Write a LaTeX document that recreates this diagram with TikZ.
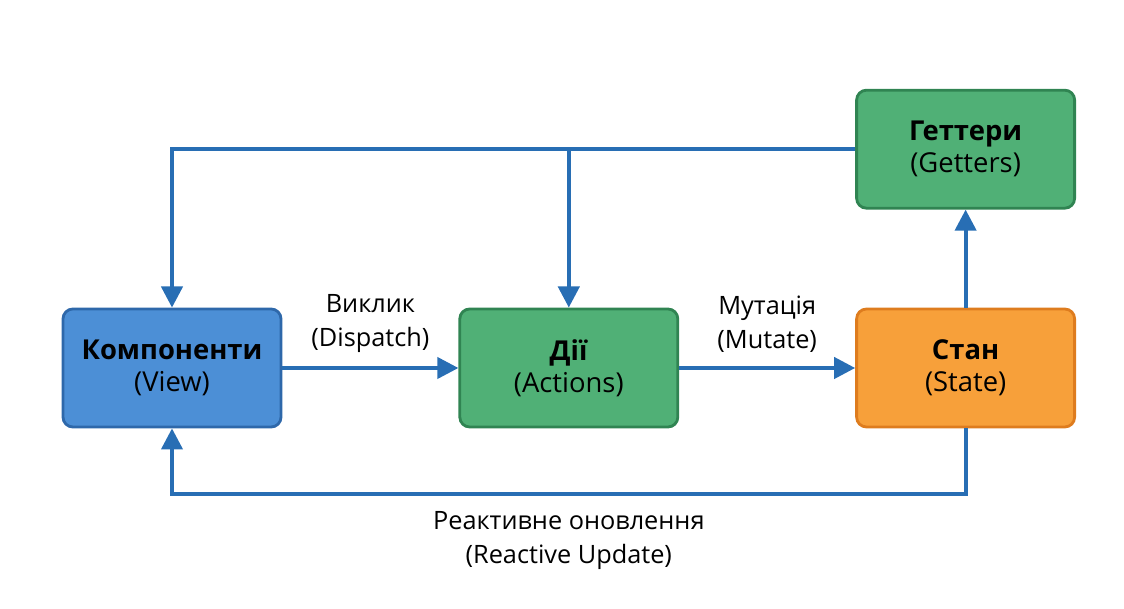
\documentclass[tikz,border=0pt]{standalone}
\usepackage{fontspec}
\setmainfont{Open Sans}
\usetikzlibrary{arrows.meta,positioning}
\definecolor{viewfill}{RGB}{76,143,214}
\definecolor{viewdraw}{RGB}{46,104,170}
\definecolor{greenfill}{RGB}{80,176,118}
\definecolor{greendraw}{RGB}{48,132,82}
\definecolor{statefill}{RGB}{247,160,58}
\definecolor{statedraw}{RGB}{222,124,30}
\definecolor{flowline}{RGB}{40,110,180}

\begin{document}
\begin{tikzpicture}[node distance=4.4cm, >={Triangle[length=15pt,width=15pt]}]
    \tikzstyle{box}     = [draw, rectangle, line width=2pt, rounded corners=7pt, minimum width=5.45cm, minimum height=2.95cm, align=center, font=\fontsize{19.5}{23}\selectfont, inner sep=2pt]
    \tikzstyle{viewbox} = [box, fill=viewfill, draw=viewdraw]
    \tikzstyle{greenbox}= [box, fill=greenfill, draw=greendraw]
    \tikzstyle{statebox}= [box, fill=statefill, draw=statedraw]
    \tikzstyle{flow}    = [line width=2.8pt, draw=flowline, ->]
    \tikzstyle{lbl}     = [align=center, font=\fontsize{18}{24.5}\selectfont]

    \useasboundingbox (-4.3,-6.025) rectangle (23.8,9.2);

    \node [viewbox] (view) {\textbf{Компоненти}\\(View)};
    \node [greenbox, right=4.4cm of view] (actions) {\textbf{Дії}\\(Actions)};
    \node [statebox, right=4.4cm of actions] (state) {\textbf{Стан}\\(State)};
    \node [greenbox, above=2.45cm of state] (getters) {\textbf{Геттери}\\(Getters)};

    \coordinate (topleft) at (view |- getters);
    \coordinate (topmid) at (actions |- getters);
    \coordinate [below=1.65cm of state.south] (botright);

    % Connections
    \draw [flow] (view) -- node[lbl, above=0.22cm] {Виклик\\(Dispatch)} (actions);
    \draw [flow] (actions) -- node[lbl, above=0.22cm] {Мутація\\(Mutate)} (state);
    \draw [flow] (state) -- (getters);
    \draw [flow] (getters.west) -- (topleft) -- (view.north);
    \draw [flow] (topmid) -- (actions.north);
    \draw [flow] (state.south) |- node[lbl, below=0.25cm, pos=0.75] {Реактивне оновлення\\(Reactive Update)} (view |- botright) -- (view.south);

\end{tikzpicture}
\end{document}
